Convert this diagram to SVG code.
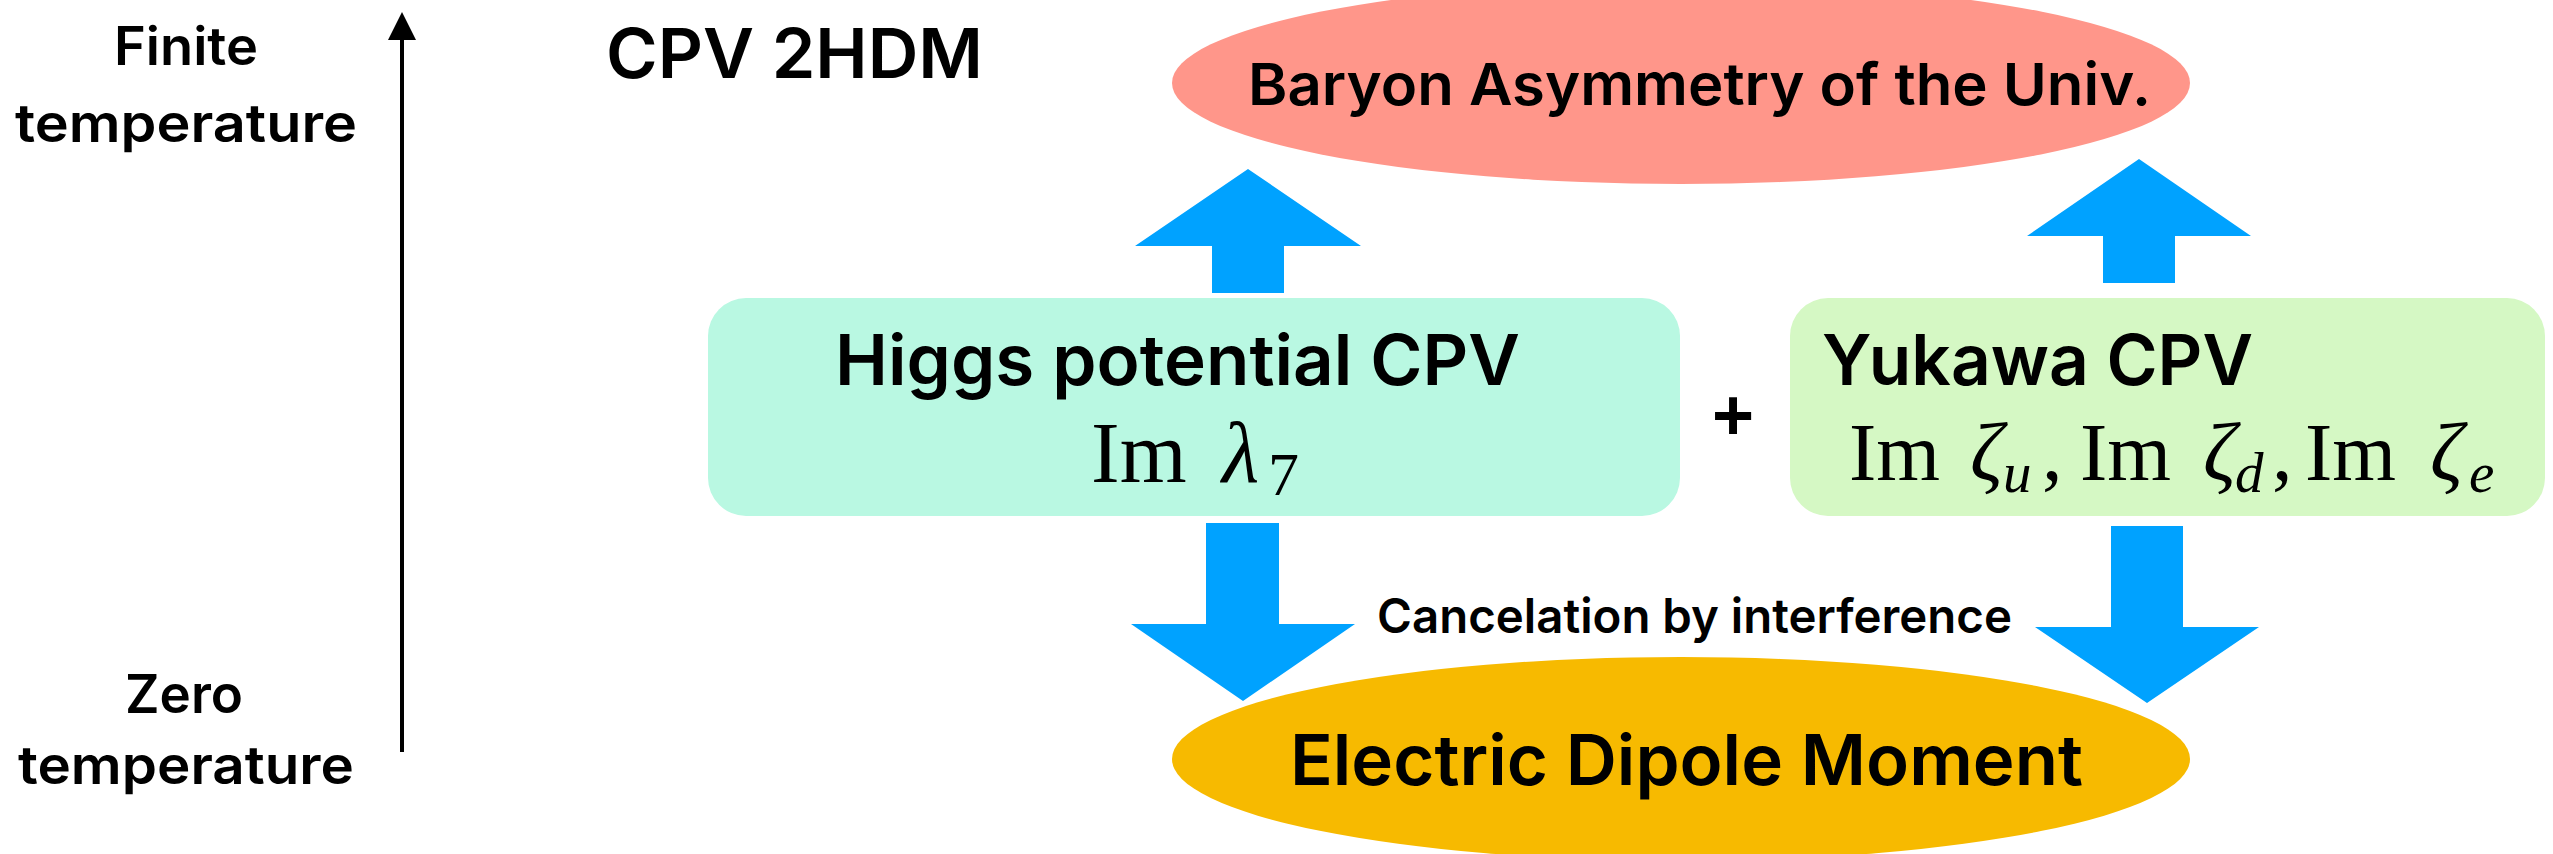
<svg xmlns="http://www.w3.org/2000/svg" width="2553" height="854" viewBox="0 0 2553 854">
<style>
.s{font-family:Inter,"Liberation Sans",Arial,sans-serif;font-weight:600;fill:#000}
.m{font-family:"Liberation Serif","DejaVu Serif",serif;fill:#000}
.i{font-style:italic}
.arw{fill:#00A2FF}
</style>
<rect width="2553" height="854" fill="#fff"/>
<g id="axis">
<line x1="402" y1="36" x2="402" y2="752" stroke="#000" stroke-width="4"/>
<polygon points="402,12 388,40 416,40" fill="#000"/>
<text class="s" x="186" y="65" font-size="53" text-anchor="middle" textLength="144" lengthAdjust="spacingAndGlyphs">Finite</text>
<text class="s" x="186" y="142" font-size="53" text-anchor="middle" textLength="342" lengthAdjust="spacingAndGlyphs">temperature</text>
<text class="s" x="184" y="713" font-size="53" text-anchor="middle" textLength="118" lengthAdjust="spacingAndGlyphs">Zero</text>
<text class="s" x="186" y="784" font-size="53" text-anchor="middle" textLength="336" lengthAdjust="spacingAndGlyphs">temperature</text>
</g>
<g id="title">
<text class="s" x="606" y="78" font-size="69" textLength="377" lengthAdjust="spacingAndGlyphs">CPV 2HDM</text>
</g>
<g id="bau">
<ellipse cx="1681" cy="83" rx="509" ry="101" fill="#FF968A"/>
<text class="s" x="1248" y="105" font-size="58" textLength="903" lengthAdjust="spacingAndGlyphs">Baryon Asymmetry of the Univ.</text>
</g>
<g id="higgs">
<rect x="708" y="298" width="972" height="218" rx="38" fill="#B9F8E2"/>
<text class="s" x="835" y="385" font-size="70" textLength="685" lengthAdjust="spacingAndGlyphs">Higgs potential CPV</text>
<text class="m" y="482" font-size="86"><tspan x="1091">Im</tspan><tspan x="1222" class="i">λ</tspan><tspan x="1268" y="495" font-size="62">7</tspan></text>
</g>
<g id="plus">
<text x="1733" y="440" font-family="'Liberation Sans',Arial,sans-serif" font-weight="bold" font-size="72" text-anchor="middle">+</text>
</g>
<g id="yukawa">
<rect x="1790" y="298" width="755" height="218" rx="38" fill="#D5F8C4"/>
<text class="s" x="1822" y="385" font-size="70" textLength="431" lengthAdjust="spacingAndGlyphs">Yukawa CPV</text>
<text class="m" y="480" font-size="82"><tspan x="1849">Im</tspan><tspan x="1970" class="i">ζ</tspan><tspan x="2003" y="492" font-size="57" class="i">u</tspan><tspan x="2042" y="480">,</tspan><tspan x="2080">Im</tspan><tspan x="2203" class="i">ζ</tspan><tspan x="2235" y="492" font-size="57" class="i">d</tspan><tspan x="2272" y="480">,</tspan><tspan x="2305">Im</tspan><tspan x="2430" class="i">ζ</tspan><tspan x="2469" y="492" font-size="57" class="i">e</tspan></text>
</g>
<g id="edm">
<ellipse cx="1681" cy="759" rx="509" ry="102" fill="#F7BA00"/>
<text class="s" x="1290" y="785" font-size="70" textLength="793" lengthAdjust="spacingAndGlyphs">Electric Dipole Moment</text>
</g>
<g id="connectors">
<polygon class="arw" points="1248,169 1361,246 1284,246 1284,293 1212,293 1212,246 1135,246"/>
<polygon class="arw" points="2139,159 2251,236 2175,236 2175,283 2103,283 2103,236 2027,236"/>
<polygon class="arw" points="1206,523 1279,523 1279,624 1355,624 1243,701 1131,624 1206,624"/>
<polygon class="arw" points="2111,526 2183,526 2183,627 2259,627 2147,703 2035,627 2111,627"/>
<text class="s" x="1377" y="633" font-size="48" textLength="635" lengthAdjust="spacingAndGlyphs">Cancelation by interference</text>
</g>
</svg>
